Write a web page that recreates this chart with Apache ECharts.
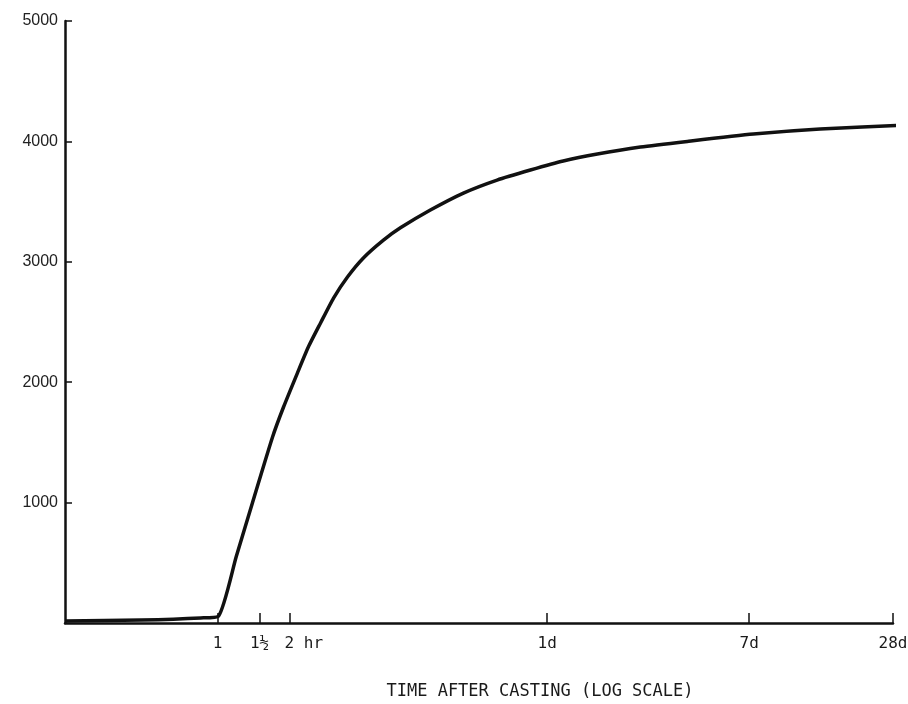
<!DOCTYPE html>
<html>
<head>
<meta charset="utf-8">
<script src="https://cdn.jsdelivr.net/npm/echarts@6/dist/echarts.min.js"></script>
<style>
  html, body { margin: 0; padding: 0; background: #fff; }
  #chart { width: 908px; height: 704px; }
</style>
</head>
<body>
<div id="chart"></div>
<script>
// time after casting, in hours
const hours = [0.23, 0.48, 0.85, 1.01, 1.20, 1.40, 1.70, 1.89, 2.16, 2.40, 2.70, 3.06, 3.50, 4.08, 4.95, 5.83, 7.78, 10.7, 14.8, 20.4, 28.0, 38.9, 58.9, 92.6, 175, 333, 778];
// strength values
const strength = [17, 25, 42, 58, 556, 997, 1545, 1794, 2076, 2292, 2492, 2699, 2874, 3032, 3180, 3282, 3430, 3571, 3679, 3762, 3837, 3895, 3953, 4000, 4061, 4103, 4136];

const tickHours = [1, 1.5, 2, 24, 168, 672];
const tickLabels = ['1', '1½', '   2 hr', '1d', '7d', '28d'];
const yTicks = [1000, 2000, 3000, 4000, 5000];

const chart = echarts.init(document.getElementById('chart'));

const labelFor = (v) => {
  for (let i = 0; i < tickHours.length; i++) {
    if (Math.abs(v - tickHours[i]) / tickHours[i] < 0.01) return tickLabels[i];
  }
  return '';
};

const option = {
  animation: false,
  backgroundColor: '#fff',
  grid: {
    left: 65,
    right: 15,
    top: 21,
    bottom: 81,
    containLabel: false,
    outerBoundsMode: 'none'
  },
  xAxis: {
    type: 'log',
    logBase: 10,
    min: 0.23,
    max: 672,
    name: 'TIME AFTER CASTING (LOG SCALE)',
    nameLocation: 'middle',
    nameGap: 60,
    nameTextStyle: {
      fontFamily: 'DejaVu Sans Mono',
      fontSize: 17,
      color: '#1a1a1a',
      padding: [0, 0, 0, 122]
    },
    axisLine: { show: true, lineStyle: { color: '#111', width: 2.5 } },
    axisTick: {
      show: true,
      inside: true,
      length: 10,
      customValues: tickHours,
      lineStyle: { color: '#111', width: 1.5 }
    },
    axisLabel: {
      customValues: tickHours,
      formatter: labelFor,
      margin: 13,
      fontFamily: 'DejaVu Sans Mono',
      fontSize: 16,
      color: '#1a1a1a'
    },
    splitLine: { show: false },
    minorTick: { show: false }
  },
  yAxis: {
    type: 'value',
    min: 0,
    max: 5000,
    interval: 1000,
    axisLine: { show: true, lineStyle: { color: '#111', width: 2.5 } },
    axisTick: {
      show: true,
      inside: true,
      length: 7,
      customValues: yTicks,
      lineStyle: { color: '#111', width: 1.5 }
    },
    axisLabel: {
      customValues: yTicks,
      formatter: (v) => String(v),
      margin: 7,
      fontFamily: 'Liberation Sans',
      fontSize: 16,
      color: '#222',
      padding: [0, 0, 10, 0]
    },
    splitLine: { show: false }
  },
  series: [
    {
      type: 'line',
      data: hours.map((h, i) => [h, strength[i]]),
      showSymbol: false,
      smooth: 0.2,
      clip: false,
      lineStyle: { color: '#111', width: 3.5, join: 'round' }
    }
  ]
};

chart.setOption(option);
</script>
</body>
</html>
